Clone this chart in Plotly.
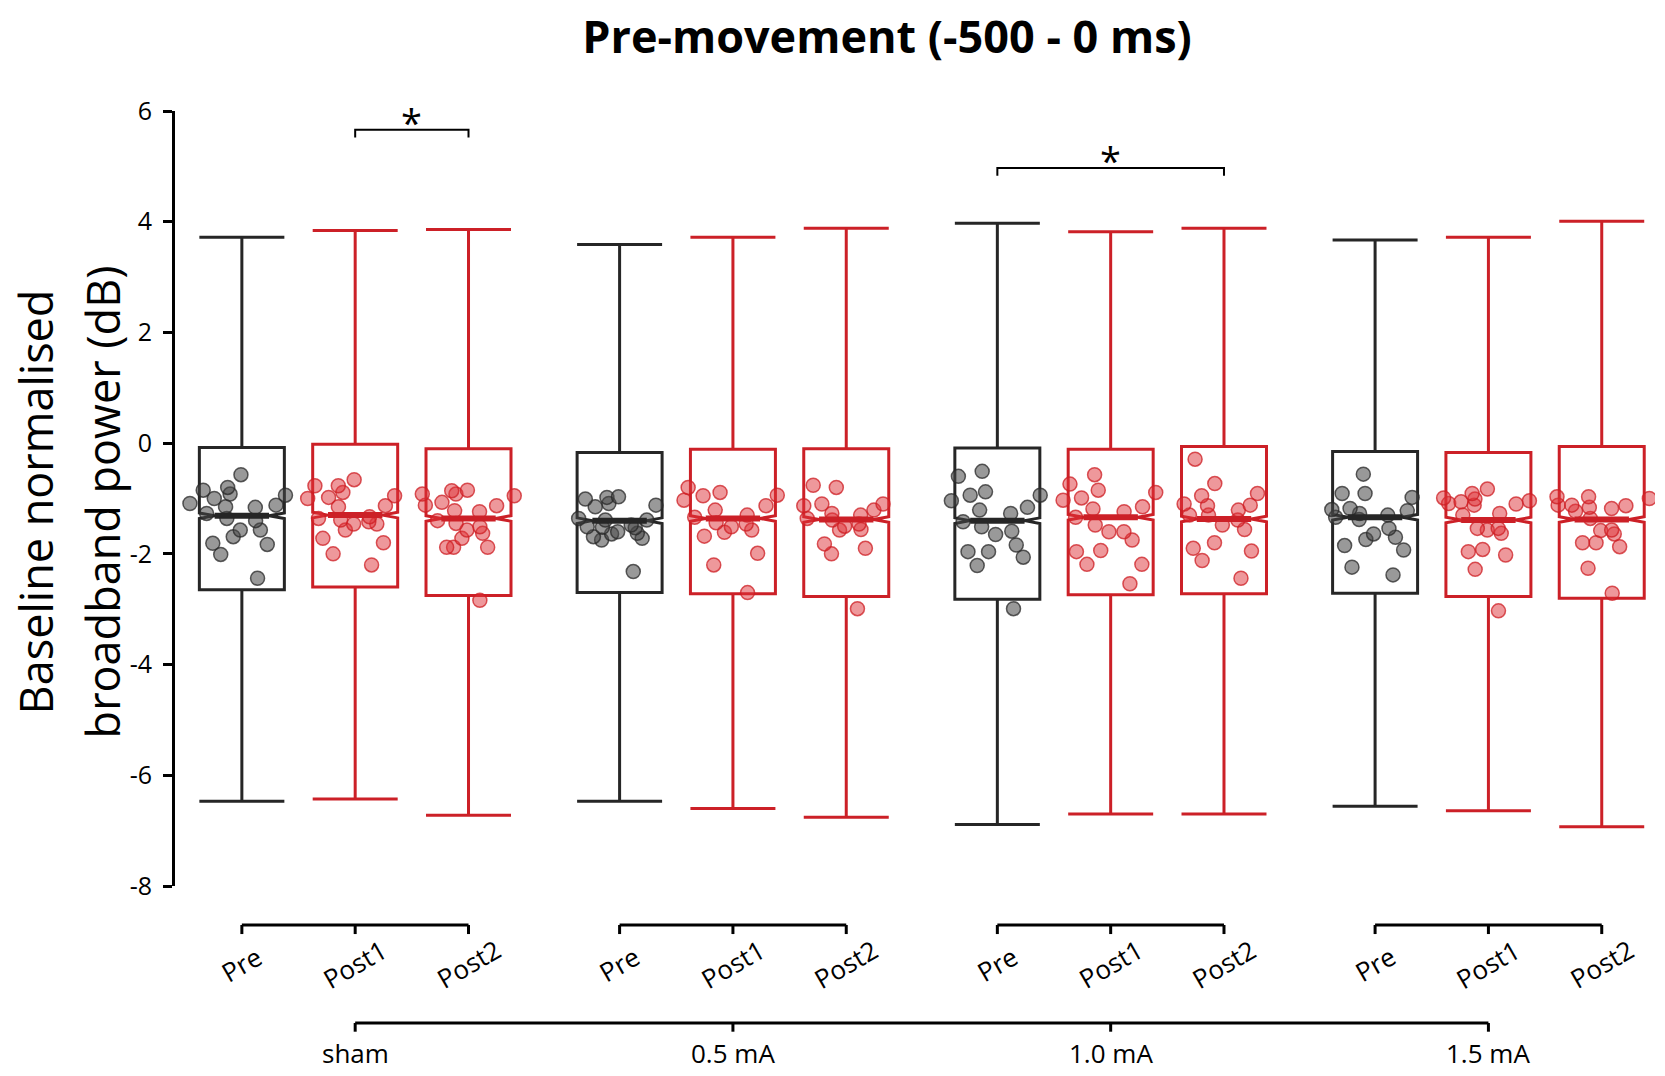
import plotly.graph_objects as go

conditions = ["sham", "0.5 mA", "1.0 mA", "1.5 mA"]
sessions = ["Pre", "Post1", "Post2"]

# box stats, order: sham Pre/Post1/Post2, 0.5 mA ..., 1.0 mA ..., 1.5 mA ...
upper = [3.72, 3.84, 3.86, 3.59, 3.72, 3.88, 3.97, 3.82, 3.88, 3.67, 3.72, 4.01]
q3 = [-0.08, -0.02, -0.10, -0.17, -0.11, -0.10, -0.09, -0.11, -0.06, -0.15, -0.17, -0.06]
median = [-1.31, -1.30, -1.36, -1.40, -1.36, -1.38, -1.40, -1.34, -1.37, -1.34, -1.39, -1.38]
q1 = [-2.65, -2.60, -2.75, -2.70, -2.72, -2.77, -2.82, -2.74, -2.72, -2.71, -2.77, -2.80]
lower = [-6.47, -6.43, -6.72, -6.47, -6.60, -6.76, -6.89, -6.70, -6.70, -6.56, -6.64, -6.93]

# individual subjects
sham_pre = [-0.57, -0.85, -0.94, -1.00, -1.15, -0.92, -1.12, -1.27, -0.80, -1.16,
            -1.09, -1.36, -1.40, -1.57, -1.57, -1.69, -1.81, -1.83, -2.01, -2.44]
sham_post1 = [-0.77, -0.66, -0.89, -1.00, -0.95, -0.77, -0.98, -1.13, -1.15, -1.33,
              -1.46, -1.46, -1.36, -1.39, -1.42, -1.57, -1.72, -1.80, -2.00, -2.20]
sham_post2 = [-1.07, -1.24, -1.45, -0.86, -0.85, -0.92, -0.92, -1.13, -1.22, -0.95,
              -1.12, -1.40, -1.51, -1.57, -1.63, -1.72, -1.88, -1.88, -1.88, -2.84]
ma05_pre = [-1.01, -0.98, -1.09, -1.15, -0.97, -1.12, -1.39, -1.53, -1.60, -1.69,
            -1.72, -1.64, -1.63, -1.75, -1.36, -1.52, -1.51, -1.48, -2.32, -1.39]
ma05_post1 = [-0.80, -0.95, -0.94, -0.89, -1.03, -1.13, -1.21, -1.34, -1.44, -1.57,
              -1.68, -1.61, -1.30, -1.46, -1.99, -2.20, -2.70, -1.51]
ma05_post2 = [-0.80, -0.76, -1.10, -1.13, -1.10, -1.21, -1.46, -1.57, -1.56, -1.36,
              -1.30, -1.50, -1.82, -2.00, -1.90, -2.99, -1.27, -1.39]
ma10_pre = [-0.60, -0.51, -0.88, -0.94, -0.94, -1.04, -1.21, -1.16, -1.27, -1.42,
            -1.59, -1.51, -1.65, -1.96, -1.96, -1.84, -2.06, -2.21, -2.99]
ma10_post1 = [-0.57, -0.74, -0.85, -0.89, -0.99, -1.03, -1.15, -1.24, -1.19, -1.34,
              -1.48, -1.60, -1.60, -1.75, -1.94, -1.96, -2.19, -2.19, -2.54]
ma10_post2 = [-0.29, -0.73, -1.12, -1.30, -0.95, -0.91, -1.10, -1.13, -1.21, -1.30,
              -1.39, -1.48, -1.56, -1.80, -1.95, -1.90, -2.12, -2.44]
ma15_pre = [-0.56, -0.98, -0.91, -0.91, -1.22, -1.27, -1.18, -1.20, -1.34, -1.38,
            -1.30, -1.54, -1.64, -1.74, -1.70, -1.85, -1.93, -2.24, -2.38]
ma15_post1 = [-1.01, -1.04, -1.06, -1.27, -0.83, -0.99, -1.10, -1.09, -1.12, -0.91,
              -1.30, -1.54, -1.57, -1.63, -1.54, -2.02, -1.92, -1.96, -2.28, -3.03]
ma15_post2 = [-0.97, -1.00, -1.12, -1.16, -1.18, -0.97, -1.13, -1.12, -1.23, -1.36,
              -1.57, -1.64, -1.58, -1.80, -1.80, -1.87, -2.26, -2.71]

points = [sham_pre, sham_post1, sham_post2, ma05_pre, ma05_post1, ma05_post2,
          ma10_pre, ma10_post1, ma10_post2, ma15_pre, ma15_post1, ma15_post2]

yticks = [-8, -6, -4, -2, 0, 2, 4, 6]

FONT = "Open Sans"
BLACK = "#262626"
RED = "#cc2027"
GAP = 3 + 1 / 3  # spacing between condition groups
BOXW = 0.75

pos = []
for g in range(len(conditions)):
    for s in range(len(sessions)):
        pos.append(1 + g * GAP + s)

fig = go.Figure()

for i, x in enumerate(pos):
    col = BLACK if i % 3 == 0 else RED
    fig.add_trace(go.Box(
        x=[x], q1=[q1[i]], median=[median[i]], q3=[q3[i]],
        lowerfence=[lower[i]], upperfence=[upper[i]],
        notched=True, notchspan=[0.05], notchwidth=0.18,
        width=BOXW, whiskerwidth=1,
        line=dict(color=col, width=3), fillcolor="rgba(255,255,255,0)",
        showlegend=False, hoverinfo="skip",
    ))

for i, x in enumerate(pos):
    if i % 3 == 0:
        mk = dict(size=14, color="rgba(70,70,70,0.55)",
                  line=dict(color="rgba(40,40,40,0.75)", width=1.5))
    else:
        mk = dict(size=14, color="rgba(222,50,55,0.5)",
                  line=dict(color="rgba(205,30,35,0.75)", width=1.5))
    fig.add_trace(go.Box(
        x=[x] * len(points[i]), y=points[i],
        boxpoints="all", jitter=1, pointpos=0, width=0.95,
        line=dict(width=0, color="rgba(0,0,0,0)"), fillcolor="rgba(0,0,0,0)",
        marker=mk, showlegend=False, hoveron="points",
    ))

shapes = []
annotations = []

# thick median bars
for i, x in enumerate(pos):
    col = BLACK if i % 3 == 0 else RED
    shapes.append(dict(type="line", xref="x", yref="y", x0=x - 0.24, x1=x + 0.24,
                       y0=median[i], y1=median[i], line=dict(color=col, width=6)))

# session brackets under each group
for g in range(len(conditions)):
    x0 = pos[g * 3]
    x2 = pos[g * 3 + 2]
    shapes.append(dict(type="line", xref="x", yref="paper", x0=x0, x1=x2,
                       y0=-0.0503, y1=-0.0503, line=dict(color="black", width=3)))
    for s in range(3):
        xs = pos[g * 3 + s]
        shapes.append(dict(type="line", xref="x", yref="paper", x0=xs, x1=xs,
                           y0=-0.0503, y1=-0.062, line=dict(color="black", width=3)))
        annotations.append(dict(x=xs, y=-0.101, xref="x", yref="paper",
                                xanchor="center", yanchor="middle",
                                text=sessions[s], showarrow=False, textangle=-30,
                                font=dict(family=FONT, size=26, color="black")))

# condition axis
cx = [pos[g * 3 + 1] for g in range(len(conditions))]
shapes.append(dict(type="line", xref="x", yref="paper", x0=cx[0], x1=cx[-1],
                   y0=-0.1768, y1=-0.1768, line=dict(color="black", width=3)))
for g, c in enumerate(conditions):
    shapes.append(dict(type="line", xref="x", yref="paper", x0=cx[g], x1=cx[g],
                       y0=-0.1768, y1=-0.188, line=dict(color="black", width=3)))
    annotations.append(dict(x=cx[g], y=-0.2155, xref="x", yref="paper", text=c,
                            xanchor="center", yanchor="middle", showarrow=False,
                            font=dict(family=FONT, size=26, color="black")))

# significance brackets
sig = [(pos[1], pos[2], 5.66), (pos[6], pos[8], 4.97)]
for a, b, h in sig:
    shapes.append(dict(type="path", xref="x", yref="y",
                       path=f"M {a},{h - 0.14} L {a},{h} L {b},{h} L {b},{h - 0.14}",
                       line=dict(color="black", width=2)))
    annotations.append(dict(x=(a + b) / 2, y=h, xref="x", yref="y", text="*",
                            showarrow=False, yanchor="bottom", yshift=-20,
                            font=dict(family=FONT, size=38, color="black")))

# y-axis title, two lines (x given in window pixels, converted to paper)
for px, txt in [(35, "Baseline normalised"), (102, "broadband power (dB)")]:
    annotations.append(dict(x=(px - 175) / 1480, y=0.495, xref="paper", yref="paper",
                            text=txt, showarrow=False, textangle=-90,
                            xanchor="center", yanchor="middle",
                            font=dict(family=FONT, size=45, color="black")))

fig.update_layout(
    width=1649, height=1064,
    margin=dict(l=167, r=2, t=103, b=186),
    paper_bgcolor="white", plot_bgcolor="white",
    title=dict(text="<b>Pre-movement (-500 - 0 ms)</b>", xref="container", yref="container",
               x=879 / 1649, y=1 - 29 / 1064, xanchor="center", yanchor="middle",
               font=dict(family=FONT, size=45, color="black")),
    xaxis=dict(range=[0.41, 13.47], visible=False),
    yaxis=dict(range=[-8, 6], tickvals=yticks, ticktext=[str(v) for v in yticks],
               showgrid=False, zeroline=False, showline=True, linecolor="black",
               linewidth=3, ticks="outside", ticklen=9, tickwidth=3, tickcolor="black",
               ticklabelstandoff=6,
               tickfont=dict(family=FONT, size=25, color="black")),
    shapes=shapes,
    annotations=annotations,
    boxmode="overlay",
)

fig.write_html("out.html")
